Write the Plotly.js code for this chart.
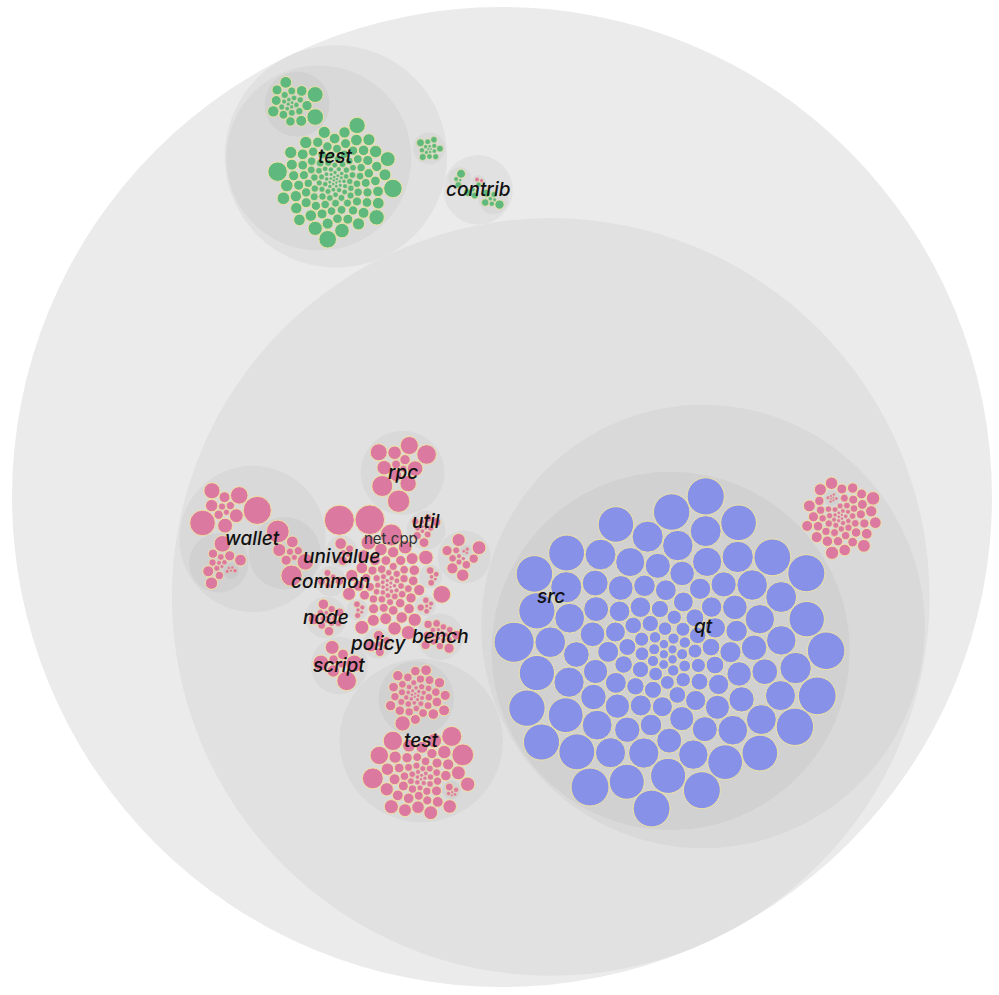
<!DOCTYPE html>
<html><head><meta charset="utf-8">
<script src="https://cdn.plot.ly/plotly-3.0.1.min.js"></script>
<style>html,body{margin:0;padding:0;background:#fff}#chart{width:999px;height:995px}</style>
</head><body><div id="chart"></div>
<script>
// ---------------- DATA: estimated file sizes (relative units) per folder ----------------
const testFunctionalPy = [196,178,161,138,124,115,110,106,
 83,82,80,79,78,77,76,75,74,72,71,70,69,68,67,66,64,63,62,61,60,59,58,56,55,54,
 53,53,52,52,51,51,49,49,48,48,47,47,46,46,45,45,44,44,43,43,41,41,40,40,
 38,38,37,37,36,36,35,35,33,33,32,32,31,31,30,30,29,29,28,28,26,26,
 24,24,23,23,22,22,21,21,20,20,18,18,17,17,16,16,15,15,
 14,14,13,13,12,12,10,10,9,9,9,8,8,7,7,6,
 6,6,6,5,5,5,5,4,4,4];
const testFunctionalDataPy = [145,132,72,67,63,60,55,53,51,46,40,33,29,26,24,20,18,16,14,12,10,9,8,7,6];
const testLintPy = [32,25,23,21,18,16,15,13,12,10,8,7,5,4,3,2];

const contribPy = [31,24,7,3];
const contribDevtoolsPy = [44,33,28,18,13,9,6];
const contribGuixPy = [40,20,11,4];
const contribSeedsPy = [13];
const contribSeedsCpp = [10,7];

const srcNamedFiles = ['validation.cpp','net_processing.cpp','net.cpp'];
const srcNamedSizes = [470,455,250];
const srcFiles = [163,114,109,104,101,98,94,91,88,
 81,78,75,74,73,72,70,68,66,65,64,62,
 57,56,55,53,52,51,49,48,47,46,44,43,42,40,
 38,36,35,34,33,31,30,29,27,26,25,23,
 22,21,20,18,17,16,16,14,13,
 12,10,10,9,9,8,8,7,7,5];

const qtFiles = [95,90,85,80,76,73,71,69,67,64,62,60,58,56,
 53,52,51,50,49,48,47,46,45,44,43,42,
 36,35,34,33,32,31,30,29,28,27,
 23,22,21,20,19,18,17,16,
 14,13,12,11,10,9,
 8,7,6,5,5,4];
const qtForms = [6,5,4,4,3,3,2,2];
const qtLocaleTs = [836,748,739,731,726,719,715,709,704,700,695,691,688,682,678,673,669,664,660,656,651,647,642,638,632,627,
 515,511,507,504,500,497,494,491,487,484,481,477,474,471,467,464,462,459,455,452,449,446,442,
 350,346,343,341,339,337,334,332,330,328,326,323,321,319,317,315,312,310,308,306,304,
 244,242,240,238,235,233,231,229,227,224,222,220,218,216,213,211,209,207,
 167,165,163,161,158,156,154,152,150,147,145,143,141,139,
 110,108,106,105,103,102,101,100,99,97,
 73,70,69,68,67,66,65,64,
 50,48,47,46,44];

const srcTestFiles = [247,228,208,195,176,111,107,104,101,99,96,94,91,88,86,83,81,78,75,
 65,62,61,60,59,57,56,55,53,52,51,49,
 43,42,40,39,38,36,35,34,33,31,
 26,25,23,22,21,20,18,17,
 14,13,12,10,9,8,7,5];
const srcTestFuzz = [124,62,60,59,57,56,55,53,52,51,49,48,47,
 42,40,39,38,36,35,34,33,31,30,
 26,25,23,22,21,20,18,17,16,
 14,13,12,10,10,9,9,8,
 7,7,5,5,4,4];
const srcTestUtil = [32,13,8,5,4,3];

const walletFiles = [410,340,160,135,115,100,80,62,45,36,27,18];
const walletRpc = [270,235,145,90,72,54,36,27,18];
const walletTest = [145,80,72,63,54,45,36,27,22,18,14,11,7];
const walletTestFuzz = [9,7,5,4,4];
const rpcFiles = [260,230,200,170,150,140,125,110,95,75,55,40,25];
const scriptFiles = [200,150,130,100,80,60,45,30];
const cryptoFiles = [100,90,80,65,55,45,38,30,24,18,12,8];
const cryptoCtaes = [7,5,4];
const nodeFiles = [65,58,48,40,32,28,24,20,17,14,12,10,8,7,5,4];
const benchFiles = [55,48,44,40,35,31,28,25,22,20,18,16,14,12,10,9,8,6,5,4];
const utilFiles = [50,42,36,32,28,24,20,16,13,10,8,6,4];
const univalueFiles = [70,48,32,16,9];
const commonFiles = [40,32,25,19,15,12,9];
const policyFiles = [70,55,40,30,19,12];
const consensusFiles = [30,22,15,9,6];
const indexFiles = [22,18,12,8,6];
const kernelFiles = [27,21,15,12,8,5];

const folderLabels = ['test','contrib','src','src/qt','src/test','src/wallet','src/rpc','src/script',
  'src/node','src/policy','src/bench','src/util','src/common','src/univalue'];
const fileLabels = ['src/net.cpp'];
// sub-folders placed last (in this order) when packing a folder; others ascending by size
const placeLast = {'src': ['rpc','test','qt','wallet']};

// ---------------- tree ----------------
function leaves(arr, ext, names){ return arr.map((v,i)=>({name: names ? names[i] : ext+i, value:v, ext})); }
function dir(name, files, subs){ return {name, files: files||[], subs: subs||[]}; }

const TREE = dir('bitcoin', [], [
  dir('test', [], [
    dir('functional', leaves(testFunctionalPy,'py'), [dir('data', leaves(testFunctionalDataPy,'py'))]),
    dir('lint', leaves(testLintPy,'py'))
  ]),
  dir('contrib', leaves(contribPy,'py'), [
    dir('devtools', leaves(contribDevtoolsPy,'py')),
    dir('guix', leaves(contribGuixPy,'py')),
    dir('seeds', leaves(contribSeedsPy,'py').concat(leaves(contribSeedsCpp,'cpp')))
  ]),
  dir('src', leaves(srcNamedSizes,'cpp',srcNamedFiles).concat(leaves(srcFiles,'cpp')), [
    dir('qt', leaves(qtFiles,'cpp'), [dir('forms', leaves(qtForms,'cpp')), dir('locale', leaves(qtLocaleTs,'ts'))]),
    dir('test', leaves(srcTestFiles,'cpp'), [dir('fuzz', leaves(srcTestFuzz,'cpp')), dir('util', leaves(srcTestUtil,'cpp'))]),
    dir('wallet', leaves(walletFiles,'cpp'), [dir('rpc', leaves(walletRpc,'cpp')),
        dir('test', leaves(walletTest,'cpp'), [dir('fuzz', leaves(walletTestFuzz,'cpp'))])]),
    dir('rpc', leaves(rpcFiles,'cpp')),
    dir('script', leaves(scriptFiles,'cpp')),
    dir('crypto', leaves(cryptoFiles,'cpp'), [dir('ctaes', leaves(cryptoCtaes,'cpp'))]),
    dir('node', leaves(nodeFiles,'cpp')),
    dir('bench', leaves(benchFiles,'cpp')),
    dir('util', leaves(utilFiles,'cpp')),
    dir('univalue', leaves(univalueFiles,'cpp')),
    dir('common', leaves(commonFiles,'cpp')),
    dir('policy', leaves(policyFiles,'cpp')),
    dir('consensus', leaves(consensusFiles,'cpp')),
    dir('index', leaves(indexFiles,'cpp')),
    dir('kernel', leaves(kernelFiles,'cpp'))
  ])
]);

function build(spec, parent, path){
  const node = {name:spec.name, path, depth: parent ? parent.depth+1 : 0, parent, children:[]};
  spec.files.forEach(f => node.children.push({name:f.name, value:f.value, ext:f.ext, depth:node.depth+1,
     parent:node, children:null, path:(path ? path+'/' : '')+f.name}));
  spec.subs.forEach(s => node.children.push(build(s, node, (path ? path+'/' : '')+s.name)));
  node.value = node.children.reduce((a,c)=>a+c.value,0);
  node.children.sort((a,b)=>a.value-b.value);
  const last = placeLast[path];
  if(last){
    const tail = last.map(nm=>node.children.find(c=>c.children && c.name===nm)).filter(Boolean);
    node.children = node.children.filter(c=>tail.indexOf(c)<0).concat(tail);
  }
  return node;
}
const root = build(TREE, null, '');

// ---------------- circle packing (port of d3-hierarchy pack) ----------------
function Node(c){ this._=c; this.next=null; this.previous=null; }
function place(b,a,c){
  let dx=b.x-a.x, x, a2, dy=b.y-a.y, y, b2, d2=dx*dx+dy*dy;
  if(d2){
    a2=a.r+c.r; a2*=a2; b2=b.r+c.r; b2*=b2;
    if(a2>b2){ x=(d2+b2-a2)/(2*d2); y=Math.sqrt(Math.max(0,b2/d2-x*x)); c.x=b.x-x*dx-y*dy; c.y=b.y-x*dy+y*dx; }
    else { x=(d2+a2-b2)/(2*d2); y=Math.sqrt(Math.max(0,a2/d2-x*x)); c.x=a.x+x*dx-y*dy; c.y=a.y+x*dy+y*dx; }
  } else { c.x=a.x+c.r; c.y=a.y; }
}
function intersects(a,b){ const dr=a.r+b.r-1e-6, dx=b.x-a.x, dy=b.y-a.y; return dr>0 && dr*dr>dx*dx+dy*dy; }
function score(node){ const a=node._, b=node.next._, ab=a.r+b.r, dx=(a.x*b.r+b.x*a.r)/ab, dy=(a.y*b.r+b.y*a.r)/ab; return dx*dx+dy*dy; }
function enclosesNot(a,b){ const dr=a.r-b.r, dx=b.x-a.x, dy=b.y-a.y; return dr<0 || dr*dr<dx*dx+dy*dy; }
function enclosesWeak(a,b){ const dr=a.r-b.r+Math.max(a.r,b.r,1)*1e-9, dx=b.x-a.x, dy=b.y-a.y; return dr>0 && dr*dr>dx*dx+dy*dy; }
function enclosesWeakAll(a,B){ for(let i=0;i<B.length;++i) if(!enclosesWeak(a,B[i])) return false; return true; }
function eb1(a){ return {x:a.x,y:a.y,r:a.r}; }
function eb2(a,b){ const x1=a.x,y1=a.y,r1=a.r,x2=b.x,y2=b.y,r2=b.r,x21=x2-x1,y21=y2-y1,r21=r2-r1,l=Math.sqrt(x21*x21+y21*y21);
  return {x:(x1+x2+x21/l*r21)/2, y:(y1+y2+y21/l*r21)/2, r:(l+r1+r2)/2}; }
function eb3(a,b,c){
  const x1=a.x,y1=a.y,r1=a.r,x2=b.x,y2=b.y,r2=b.r,x3=c.x,y3=c.y,r3=c.r,
    a2=x1-x2,a3=x1-x3,b2=y1-y2,b3=y1-y3,c2=r2-r1,c3=r3-r1,
    d1=x1*x1+y1*y1-r1*r1, d2=d1-x2*x2-y2*y2+r2*r2, d3=d1-x3*x3-y3*y3+r3*r3,
    ab=a3*b2-a2*b3, xa=(b2*d3-b3*d2)/(ab*2)-x1, xb=(b3*c2-b2*c3)/ab,
    ya=(a3*d2-a2*d3)/(ab*2)-y1, yb=(a2*c3-a3*c2)/ab,
    A=xb*xb+yb*yb-1, B=2*(r1+xa*xb+ya*yb), C=xa*xa+ya*ya-r1*r1,
    r=-(Math.abs(A)>1e-6 ? (B+Math.sqrt(B*B-4*A*C))/(2*A) : C/B);
  return {x:x1+xa+xb*r, y:y1+ya+yb*r, r};
}
function encloseBasis(B){ return B.length===1 ? eb1(B[0]) : B.length===2 ? eb2(B[0],B[1]) : eb3(B[0],B[1],B[2]); }
function extendBasis(B,p){
  if(enclosesWeakAll(p,B)) return [p];
  for(let i=0;i<B.length;++i) if(enclosesNot(p,B[i]) && enclosesWeakAll(eb2(B[i],p),B)) return [B[i],p];
  for(let i=0;i<B.length-1;++i) for(let j=i+1;j<B.length;++j)
    if(enclosesNot(eb2(B[i],B[j]),p) && enclosesNot(eb2(B[i],p),B[j]) && enclosesNot(eb2(B[j],p),B[i]) && enclosesWeakAll(eb3(B[i],B[j],p),B))
      return [B[i],B[j],p];
  throw new Error('enclose');
}
function enclose(circles){
  try {
    let i=0, n=circles.length, B=[], p, e, guard=0;
    while(i<n){ p=circles[i]; if(e && enclosesWeak(e,p)) ++i; else { e=encloseBasis(B=extendBasis(B,p)); i=0; }
      if(++guard>1e6) throw new Error('loop'); }
    return e;
  } catch(err){
    let sx=0, sy=0; circles.forEach(c=>{sx+=c.x; sy+=c.y;}); sx/=circles.length; sy/=circles.length;
    let r=0; circles.forEach(c=>{ r=Math.max(r, Math.hypot(c.x-sx,c.y-sy)+c.r); });
    return {x:sx,y:sy,r};
  }
}
function packSiblings(circles){
  const n=circles.length; if(!n) return 0;
  let a,b,c,aa,ca,i,j,k,sj,sk;
  a=circles[0]; a.x=0; a.y=0;
  if(n<=1) return a.r;
  b=circles[1]; a.x=-b.r; b.x=a.r; b.y=0;
  if(n<=2) return a.r+b.r;
  place(b,a,c=circles[2]);
  a=new Node(a); b=new Node(b); c=new Node(c);
  a.next=c.previous=b; b.next=a.previous=c; c.next=b.previous=a;
  pack: for(i=3;i<n;++i){
    place(a._,b._,c=circles[i]); c=new Node(c);
    j=b.next; k=a.previous; sj=b._.r; sk=a._.r;
    do {
      if(sj<=sk){
        if(intersects(j._,c._)){ b=j; a.next=b; b.previous=a; --i; continue pack; }
        sj+=j._.r; j=j.next;
      } else {
        if(intersects(k._,c._)){ a=k; a.next=b; b.previous=a; --i; continue pack; }
        sk+=k._.r; k=k.previous;
      }
    } while(j!==k.next);
    c.previous=a; c.next=b; a.next=b.previous=b=c;
    aa=score(a);
    while((c=c.next)!==b){ if((ca=score(c))<aa){ a=c; aa=ca; } }
    b=a.next;
  }
  const front=[b._]; c=b; while((c=c.next)!==b) front.push(c._);
  const e=enclose(front);
  for(i=0;i<n;++i){ circles[i].x-=e.x; circles[i].y-=e.y; }
  return e.r;
}
function eachAfter(n,fn){ if(n.children) n.children.forEach(c=>eachAfter(c,fn)); fn(n); }
function eachBefore(n,fn){ fn(n); if(n.children) n.children.forEach(c=>eachBefore(c,fn)); }
function hasFiles(n){ return n.children.filter(c=>!c.children).length>1; }
function sibPad(n){ if(n.depth<=0) return 0; return hasFiles(n) ? 0.6 : 2; }
function outerPad(n){ if(n.depth<=0) return 0; return hasFiles(n) ? 4 : 3; }
function packChildren(k){ return function(node){
  const ch=node.children; if(!ch) return;
  const s=sibPad(node)*k, o=outerPad(node)*k;
  if(s) ch.forEach(c=>c.r+=s);
  const e=packSiblings(ch);
  if(s) ch.forEach(c=>c.r-=s);
  node.r=e-s+o;
};}
function translateChild(k){ return function(node){
  node.r*=k;
  if(node.parent){ node.x=node.parent.x+k*node.x; node.y=node.parent.y+k*node.y; }
};}

const SIZE = 980, CX = 502, CY = 497;
root.x = CX; root.y = CY;
eachBefore(root, n=>{ if(!n.children) n.r=Math.sqrt(n.value); });
eachAfter(root, packChildren(0.5));
eachBefore(root, translateChild(1));
const k2 = root.r / SIZE;
eachAfter(root, packChildren(k2));
eachBefore(root, translateChild(SIZE/(2*root.r)));

// ---------------- orientation of folders (layout tweak) ----------------
const byPath = {}; eachBefore(root, n=>{ byPath[n.path]=n; });
function desc(n,fn){ if(n.children) n.children.forEach(c=>{ fn(c); desc(c,fn); }); }
function rotateAbout(n,ang){ const cs=Math.cos(ang), sn=Math.sin(ang), cx=n.x, cy=n.y;
  desc(n,d=>{ const dx=d.x-cx, dy=d.y-cy; d.x=cx+dx*cs-dy*sn; d.y=cy+dx*sn+dy*cs; }); }
function reflectAbout(n,ang){ const cs=Math.cos(2*ang), sn=Math.sin(2*ang), cx=n.x, cy=n.y;
  desc(n,d=>{ const dx=d.x-cx, dy=d.y-cy; d.x=cx+dx*cs+dy*sn; d.y=cy+dx*sn-dy*cs; }); }
function angOf(n,c){ return Math.atan2(c.y-n.y, c.x-n.x); }
function angDist(a,b){ let d=Math.abs(a-b)%(2*Math.PI); return d>Math.PI ? 2*Math.PI-d : d; }
const ORIENT = [
  {path:'', primary:'src', angle:64, secondary:'contrib', secAngle:-93},
  {path:'test', primary:'test/lint', angle:-5},
  {path:'test/functional', primary:'test/functional/data', angle:-112},
  {path:'src', primary:'src/qt', angle:11, secondary:'src/test', secAngle:164},
  {path:'src/qt', primary:'src/qt/locale', angle:143, secondary:'src/qt/forms', secAngle:-44},
  {path:'src/test', primary:'src/test/fuzz', angle:-97, secondary:'src/test/util', secAngle:-15},
  {path:'src/wallet', primary:'src/wallet/rpc', angle:24, secondary:'src/wallet/test', secAngle:119}
];
ORIENT.forEach(o=>{
  const n=byPath[o.path], p=byPath[o.primary]; if(!n||!p) return;
  const th=o.angle*Math.PI/180;
  rotateAbout(n, th-angOf(n,p));
  if(o.secondary && byPath[o.secondary]){
    const s=byPath[o.secondary], phi=angOf(n,s), tgt=o.secAngle*Math.PI/180;
    if(angDist(2*th-phi,tgt) < angDist(phi,tgt)) reflectAbout(n, th);
  }
});

// ---------------- drawing ----------------
const depthFill = ['#ebebeb','#e1e1e1','#d9d9d9','#d1d1d1','#cacaca','#c4c4c4'];
const extFill = {py:'#5fb87e', cpp:'#dc79a0', ts:'#8791e8'};
const shapes = [];
eachBefore(root, n=>{
  const leaf = !n.children;
  shapes.push({type:'circle', xref:'x', yref:'y', layer:'above',
    x0:n.x-n.r, x1:n.x+n.r, y0:n.y-n.r, y1:n.y+n.r,
    fillcolor: leaf ? extFill[n.ext] : depthFill[Math.min(n.depth, depthFill.length-1)],
    line: leaf ? {color:'rgba(240,228,160,0.95)', width: Math.min(1, n.r*0.2)} : {width:0}});
});
// labels at circle centres, nudged apart vertically when they would collide
const labs = [];
folderLabels.forEach(p=>{ const n=byPath[p]; if(n) labs.push({n, text:n.name, size:19, italic:true, x:n.x, y:n.y}); });
fileLabels.forEach(p=>{ const n=byPath[p]; if(n) labs.push({n, text:n.name, size:15, italic:false, x:n.x, y:n.y}); });
labs.forEach(l=>{ l.w = l.text.length*l.size*0.56; l.h = l.size*1.05; });
for(let it=0; it<60; it++){
  let moved=false;
  for(let i=0;i<labs.length;i++) for(let j=i+1;j<labs.length;j++){
    const A=labs[i], B=labs[j];
    const ox=(A.w+B.w)/2-Math.abs(A.x-B.x), oy=(A.h+B.h)/2-Math.abs(A.y-B.y);
    if(ox>0 && oy>0){ const s = A.y<=B.y ? -1 : 1; A.y += s*oy/2*0.6; B.y -= s*oy/2*0.6; moved=true; }
  }
  if(!moved) break;
}
const annotations = labs.map(l=>({x:l.x, y:l.y, xref:'x', yref:'y', showarrow:false,
  text: l.italic ? '<i>'+l.text+'</i>' : l.text,
  font: l.italic ? {family:'Inter, "Noto Sans", sans-serif', size:l.size, color:'#111', weight:500}
                 : {family:'Inter, "Noto Sans", sans-serif', size:l.size, color:'#333'},
  xanchor:'center', yanchor:'middle'}));

Plotly.newPlot('chart', [{type:'scatter', x:[], y:[], hoverinfo:'skip', showlegend:false}], {
  width:999, height:995, margin:{l:0,r:0,t:0,b:0}, paper_bgcolor:'#ffffff', plot_bgcolor:'#ffffff',
  xaxis:{range:[0,999], visible:false, fixedrange:true},
  yaxis:{range:[995,0], visible:false, fixedrange:true},
  showlegend:false, shapes, annotations
}, {displayModeBar:false, staticPlot:true});
</script>
</body></html>
